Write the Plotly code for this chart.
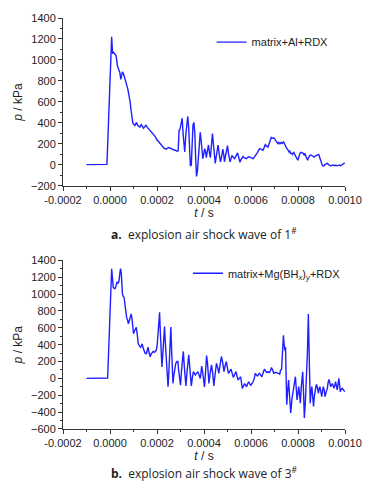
import plotly.graph_objects as go

# ---------------- data ----------------
# Panel a: matrix+Al+RDX  (time in microseconds, pressure in kPa)
time_a_us = [-100, -90, -60, -30, -13, 7, 11, 14, 18, 22, 26, 32, 38, 42, 46, 50, 53, 57, 60, 65, 70, 76, 81, 85, 89, 93,
             97, 102, 106, 110, 113, 117, 122, 127, 133, 138, 143, 148, 153, 158, 164, 170, 178, 185, 192, 200, 208, 215,
             222, 230, 238, 245, 250, 256, 262, 270, 278, 285, 290, 294, 298, 303, 307, 311, 314, 318, 323, 327, 331, 335,
             338, 342, 346, 350, 353, 357, 361, 364, 368, 372, 376, 380, 384, 388, 392, 395, 399, 403, 407, 410, 414, 419,
             423, 427, 431, 436, 440, 444, 448, 452, 456, 460, 465, 470, 475, 480, 484, 487, 492, 496, 500, 504, 508, 511,
             515, 519, 522, 526, 530, 535, 540, 543, 547, 550, 553, 557, 562, 566, 571, 576, 580, 585, 590, 595, 600, 605,
             609, 614, 619, 623, 628, 632, 637, 642, 646, 651, 656, 661, 666, 672, 676, 681, 686, 690, 695, 700, 705, 710,
             714, 718, 723, 728, 733, 736, 739, 743, 747, 751, 754, 758, 762, 765, 768, 772, 776, 779, 782, 786, 790, 795,
             799, 803, 808, 813, 818, 822, 826, 830, 834, 838, 841, 845, 850, 855, 860, 865, 869, 873, 878, 884, 888, 891,
             895, 899, 903, 907, 911, 915, 920, 925, 929, 934, 939, 944, 949, 953, 958, 962, 967, 972, 976, 980, 985, 990,
             994, 999]
pressure_a = [3, 3, 3, 3, 5, 1220, 1060, 1075, 1065, 1050, 1040, 940, 900, 880, 815, 870, 887, 870, 850, 810, 770, 720, 675,
              610, 533, 450, 400, 385, 375, 395, 405, 380, 370, 360, 385, 360, 350, 365, 378, 360, 345, 330, 315, 290, 272,
              240, 219, 195, 175, 160, 150, 155, 165, 160, 150, 145, 140, 130, 135, 330, 340, 420, 445, 300, 200, 125, 300,
              420, 462, 350, 150, -10, 0, 200, 380, 405, 300, 100, -110, -60, 100, 250, 310, 230, 120, 60, 100, 155, 120,
              70, 130, 190, 120, 70, 170, 300, 200, 80, 15, 80, 140, 190, 100, 30, 80, 150, 100, 30, 90, 150, 185, 110, 50,
              30, 60, 90, 80, 70, 60, 80, 100, 115, 80, 40, 25, 50, 75, 80, 70, 65, 60, 70, 78, 75, 70, 65, 60, 75, 90, 95,
              120, 140, 155, 150, 145, 140, 165, 193, 180, 170, 195, 230, 262, 255, 258, 250, 235, 215, 203, 215, 200, 215,
              205, 215, 220, 200, 175, 160, 155, 140, 125, 135, 110, 110, 100, 115, 120, 100, 80, 60, 45, 70, 110, 120, 115,
              110, 95, 110, 80, 60, 45, 70, 90, 95, 85, 80, 75, 85, 90, 95, 100, 80, 50, 20, 0, -10, -8, 5, 12, 15, 5, 0, -8,
              -5, 0, -5, 0, -3, -8, -5, 0, -8, 0, 2, 10, 20]

# Panel b: matrix+Mg(BHx)y+RDX
time_b_us = [-100, -60, -30, -10, 7, 11, 14, 18, 21, 25, 30, 34, 38, 42, 45, 48, 51, 53, 57, 60, 64, 67, 71, 75, 78, 82, 86,
             90, 94, 97, 100, 104, 108, 112, 116, 120, 125, 130, 134, 137, 141, 145, 150, 155, 158, 162, 166, 171, 175, 179,
             184, 189, 193, 197, 201, 205, 208, 211, 214, 217, 221, 225, 229, 232, 236, 240, 243, 247, 251, 255, 259, 262,
             265, 268, 272, 276, 280, 285, 289, 292, 296, 300, 304, 308, 312, 316, 320, 323, 327, 331, 335, 339, 343, 346,
             350, 355, 359, 363, 368, 374, 379, 384, 387, 390, 394, 398, 402, 406, 411, 415, 418, 421, 426, 432, 437, 442,
             446, 450, 453, 458, 463, 468, 474, 479, 485, 490, 495, 500, 504, 509, 515, 520, 525, 531, 536, 541, 545, 550,
             556, 560, 563, 568, 573, 577, 581, 586, 591, 595, 600, 604, 609, 614, 618, 623, 628, 632, 636, 641, 646, 651,
             657, 662, 667, 672, 678, 683, 687, 692, 697, 702, 708, 713, 718, 722, 726, 730, 734, 738, 741, 744, 747, 750,
             752, 756, 760, 764, 769, 774, 780, 785, 789, 793, 796, 800, 803, 807, 810, 814, 817, 820, 824, 827, 831, 834,
             837, 840, 844, 847, 849, 852, 856, 859, 862, 866, 870, 873, 877, 880, 884, 887, 890, 893, 897, 901, 905, 908,
             912, 915, 920, 925, 928, 932, 936, 939, 943, 946, 950, 953, 957, 960, 964, 967, 971, 974, 977, 980, 984, 988,
             992, 995, 999]
pressure_b = [0, 0, 0, 5, 1301, 1150, 1078, 1070, 1060, 1090, 1145, 1130, 1150, 1250, 1301, 1250, 1100, 1000, 970, 960, 870,
              765, 720, 690, 647, 680, 750, 765, 700, 600, 530, 560, 590, 607, 520, 412, 385, 370, 390, 410, 360, 333, 295,
              295, 330, 370, 310, 255, 290, 310, 320, 310, 320, 333, 400, 600, 720, 784, 560, 310, 137, 300, 500, 615, 400,
              150, -30, -99, 100, 400, 610, 350, 100, -60, 40, 155, 180, 200, 200, 100, -30, -80, 80, 250, 320, 150, -50,
              -90, 50, 200, 280, 150, 0, -90, 0, 80, 60, 40, 60, 80, 40, 0, 60, 145, 80, -20, -100, 50, 270, 180, 30, -60,
              60, 160, 60, -90, 20, 130, 180, 130, 60, 150, 260, 200, 80, 150, 200, 120, 60, 80, 110, 60, 10, 50, 80, 20,
              -20, 0, 20, -60, -120, -90, -60, -80, -100, -60, -40, -70, -80, -60, -40, 0, 60, 40, 30, 50, 60, 40, 20, 60,
              110, 90, 70, 80, 70, 90, 130, 100, 60, 70, 70, 60, 60, 50, 100, 105, 350, 510, 400, 333, 373, 0, -313, -150,
              -20, -200, -411, -250, -98, -50, 20, -100, -255, -170, -98, -200, -294, -100, 0, 79, -200, -470, -300, -100,
              -59, 300, 765, 400, -100, -294, -150, -98, -200, -333, -200, -118, -80, -78, -120, -176, -120, -98, -150, -215,
              -140, -98, -150, -215, -160, -118, -50, -12, -60, -98, -80, -59, -90, -118, -80, -39, -100, -137, -60, 0, -80,
              -157, -130, -118, -130, -137, -157]

series_a_name = "matrix+Al+RDX"
series_b_name = "matrix+Mg(BH<sub><i>x</i></sub>)<sub><i>y</i></sub>+RDX"
x_ticks = [-0.0002, 0.0, 0.0002, 0.0004, 0.0006, 0.0008, 0.0010]
x_tick_labels = ["-0.0002", "0.0000", "0.0002", "0.0004", "0.0006", "0.0008", "0.0010"]
caption_a = "<b>a.</b>  explosion air shock wave of 1<sup>#</sup>"
caption_b = "<b>b.</b>  explosion air shock wave of 3<sup>#</sup>"

time_a = [v * 1e-6 for v in time_a_us]
time_b = [v * 1e-6 for v in time_b_us]

# ---------------- figure ----------------
line_color = "#1f1fff"
axis_color = "#333333"
font_family = "Liberation Sans"

fig = go.Figure()
fig.add_trace(go.Scatter(x=time_a, y=pressure_a, mode="lines", name=series_a_name,
                         line=dict(color=line_color, width=1.4), xaxis="x", yaxis="y", legend="legend"))
fig.add_trace(go.Scatter(x=time_b, y=pressure_b, mode="lines", name=series_b_name,
                         line=dict(color=line_color, width=1.4), xaxis="x2", yaxis="y2", legend="legend2"))

common_x = dict(range=[-0.0002, 0.0010], tickvals=x_ticks, ticktext=x_tick_labels,
                showline=True, linecolor=axis_color, linewidth=1, mirror=False,
                ticks="outside", ticklen=4, tickcolor=axis_color, showgrid=False, zeroline=False,
                minor=dict(ticks="outside", ticklen=2, tickcolor=axis_color, dtick=0.0001, showgrid=False),
                tickfont=dict(size=11, color="#222"))
common_y = dict(showline=True, linecolor=axis_color, linewidth=1, ticks="outside", ticklen=4,
                tickcolor=axis_color, showgrid=False, zeroline=False, dtick=200,
                minor=dict(ticks="outside", ticklen=2, tickcolor=axis_color, dtick=100, showgrid=False),
                tickfont=dict(size=11, color="#222"))

top_dom = [0.5914, 1.0]
bot_dom = [0.0, 0.4103]

fig.update_layout(
    width=374, height=492,
    margin=dict(l=63, r=26, t=15, b=63),
    paper_bgcolor="white", plot_bgcolor="white",
    font=dict(family=font_family, color="#222", size=11),
    xaxis=dict(common_x, domain=[0, 1], anchor="y",
               title=dict(text="<i>t</i> / s", font=dict(size=12), standoff=0)),
    yaxis=dict(common_y, domain=top_dom, anchor="x", range=[-200, 1400],
               title=dict(text="<i>p</i> / kPa", font=dict(size=12), standoff=5)),
    xaxis2=dict(common_x, domain=[0, 1], anchor="y2",
                title=dict(text="<i>t</i> / s", font=dict(size=12), standoff=0)),
    yaxis2=dict(common_y, domain=bot_dom, anchor="x2", range=[-600, 1400],
                title=dict(text="<i>p</i> / kPa", font=dict(size=12), standoff=5)),
    legend=dict(x=0.527, y=0.9413, xanchor="left", yanchor="middle", bgcolor="rgba(0,0,0,0)",
                font=dict(size=11, color="#222"), borderwidth=0),
    legend2=dict(x=0.443, y=0.379, xanchor="left", yanchor="middle", bgcolor="rgba(0,0,0,0)",
                 font=dict(size=11, color="#222"), borderwidth=0),
    showlegend=True,
    annotations=[
        dict(text=caption_a, x=0.5, y=0.4738, xref="paper", yref="paper", showarrow=False,
             xanchor="center", yanchor="middle", font=dict(size=12, color="#222", family="Open Sans")),
        dict(text=caption_b, x=0.5, y=-0.106, xref="paper", yref="paper", showarrow=False,
             xanchor="center", yanchor="middle", font=dict(size=12, color="#222", family="Open Sans")),
    ],
)

fig.write_html("out.html", config={"displayModeBar": False},
               post_script="document.body.style.margin='0';document.body.style.overflow='hidden';")
